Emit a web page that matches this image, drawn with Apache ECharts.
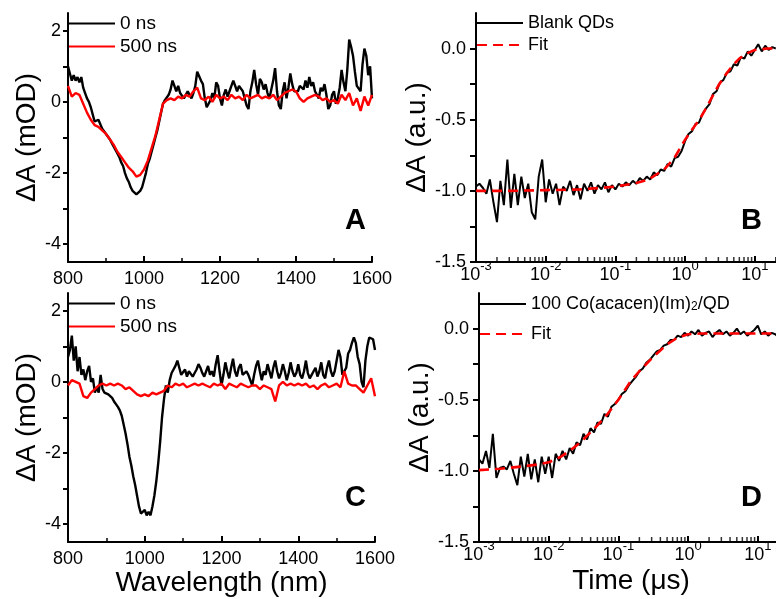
<!DOCTYPE html>
<html><head><meta charset="utf-8">
<script src="https://cdn.jsdelivr.net/npm/echarts@6/dist/echarts.min.js"></script>
<style>html,body{margin:0;padding:0;background:#fff;overflow:hidden}#c{width:776px;height:599px}</style>
</head><body><div id="c"></div>
<script>
// ---------------- DATA ----------------
// Panel A/C spectra: black traces sampled every 5 nm, red every 10 nm, from 800 nm
const wlStart = 800, wlStepBlack = 5, wlStepRed = 10;

const spectrumA_0ns = [
  1.0, 0.8, 0.6, 0.75, 0.6, 0.7, 0.55, 0.7, 0.4, 0.25,           // 800-845
  0.1, 0.0, -0.15, -0.35, -0.55, -0.6, -0.5, -0.55, -0.75, -0.8, // 850-895
  -0.9, -0.95, -1.05, -1.15, -1.25, -1.35, -1.45, -1.55, -1.7, -1.8, // 900-945
  -2.0, -2.15, -2.25, -2.4, -2.5, -2.5, -2.6, -2.55, -2.5, -2.4, // 950-995
  -2.2, -2.0, -1.75, -1.6, -1.4, -1.2, -1.0, -0.8, -0.55, -0.3,  // 1000-1045
  -0.05, 0.05, 0.1, 0.2, 0.35, 0.6, 0.55, 0.3, 0.45, 0.25,       // 1050-1095
  0.3, 0.1, 0.15, 0.3, 0.2, 0.1, 0.25, 0.45, 0.85, 0.9,          // 1100-1145
  0.6, 0.5, 0.1, -0.15, -0.2, 0.05, 0.25, 0.1, 0.55, 0.45,       // 1150-1195
  0.1, -0.1, 0.2, 0.35, 0.15, 0.3, 0.45, 0.6, 0.55, 0.3,         // 1200-1245
  0.45, 0.4, 0.3, 0.1, -0.1, -0.2, 0.3, 0.55, 0.9, 0.5,          // 1250-1295
  0.2, 0.65, 0.55, 0.35, 0.5, 0.25, 0.1, 0.35, 0.6, 0.95,        // 1300-1345
  0.3, -0.1, -0.2, 0.3, 0.55, 0.1, 0.4, 0.8, 0.5, 0.3,           // 1350-1395
  0.35, 0.3, 0.45, 0.5, 0.35, 0.6, 0.4, 0.7, 0.45, 0.55,         // 1400-1445
  0.3, 0.35, 0.1, 0.4, 0.3, 0.5, 0.2, -0.2, -0.1, 0.2,           // 1450-1495
  0.3, -0.05, 0.1, 0.4, 0.9, 0.55, 0.3, 0.9, 1.75, 1.55,         // 1500-1545
  1.3, 0.85, 0.45, 0.5, 0.3, 1.05, 1.5, 1.3, 0.75, 1.0,          // 1550-1595
  0.1                                                            // 1600
];
const spectrumA_500ns = [
  0.45, 0.15, 0.25, 0.2, -0.05, -0.3, -0.5, -0.65, -0.7, -0.8,   // 800-890
  -0.9, -1.05, -1.2, -1.4, -1.55, -1.7, -1.85, -1.95, -2.1, -2.05, // 900-990
  -1.9, -1.65, -1.3, -0.95, -0.5, -0.05, 0.05, 0.1, 0.05, 0.15,  // 1000-1090
  0.1, 0.2, 0.15, 0.3, 0.4, 0.1, 0.05, 0.15, 0.0, 0.2,           // 1100-1190
  0.1, 0.15, 0.05, 0.2, 0.1, 0.15, 0.05, 0.2, 0.1, 0.15,         // 1200-1290
  0.2, 0.1, 0.15, 0.1, 0.2, 0.05, 0.15, 0.25, 0.3, 0.35,         // 1300-1390
  0.3, 0.1, 0.0, 0.1, 0.15, 0.2, 0.15, 0.05, 0.1, 0.0,           // 1400-1490
  0.05, -0.05, 0.2, 0.05, 0.25, -0.1, 0.1, -0.25, 0.15, -0.1,    // 1500-1590
  0.2                                                            // 1600
];
const spectrumC_0ns = [
  0.7, 0.9, 1.3, 0.6, 1.0, 0.3, 0.7, 0.2, 0.35, 0.05,            // 800-845
  0.3, 0.45, 0.0, 0.1, -0.3, -0.15, -0.3, 0.2, -0.2, -0.3,       // 850-895
  -0.3, -0.35, -0.4, -0.45, -0.55, -0.6, -0.7, -0.8, -0.95, -1.2, // 900-945
  -1.45, -1.75, -2.1, -2.35, -2.65, -2.9, -3.2, -3.5, -3.7, -3.75, // 950-995
  -3.6, -3.75, -3.65, -3.75, -3.5, -3.2, -2.8, -2.3, -1.7, -1.0, // 1000-1045
  -0.5, -0.1, -0.3, 0.05, 0.25, 0.3, 0.45, 0.6, 0.4, 0.2,        // 1050-1095
  0.2, 0.35, 0.15, 0.3, 0.25, 0.15, 0.25, 0.35, 0.5, 0.4,        // 1100-1145
  0.25, 0.15, 0.3, 0.45, 0.2, 0.3, 0.15, 0.5, 0.75, 0.3,         // 1150-1195
  -0.1, 0.2, 0.55, 0.3, 0.1, 0.4, 0.65, 0.3, 0.15, 0.4,          // 1200-1245
  0.5, 0.2, 0.15, 0.3, 0.2, 0.05, -0.1, 0.2, 0.45, 0.6,          // 1250-1295
  0.3, 0.05, 0.3, 0.2, 0.5, 0.3, 0.1, 0.4, 0.6, 0.3,             // 1300-1345
  0.1, 0.25, 0.5, 0.3, 0.05, 0.25, 0.55, 0.3, 0.15, 0.25,        // 1350-1395
  0.5, 0.2, 0.1, 0.3, 0.6, 0.25, 0.1, 0.2, 0.3, 0.4,             // 1400-1445
  0.15, 0.3, 0.55, 0.2, 0.1, 0.4, 0.6, 0.3, 0.15, 0.3,           // 1450-1495
  0.35, 0.9, 0.7, 0.2, 0.15, 0.4, 0.8, 0.9, 1.1, 1.25,           // 1500-1545
  1.1, 0.7, 0.5, 0.0, -0.15, 0.6, 1.0, 1.25, 1.3, 1.2,           // 1550-1595
  0.9                                                            // 1600
];
const spectrumC_500ns = [
  -0.1, 0.05, 0.0, -0.05, -0.4, -0.45, -0.3, -0.2, -0.1, -0.05,  // 800-890
  -0.1, -0.05, -0.1, -0.05, -0.1, -0.2, -0.15, -0.25, -0.35, -0.4, // 900-990
  -0.35, -0.4, -0.3, -0.35, -0.3, -0.25, -0.1, -0.15, -0.05, -0.1, // 1000-1090
  -0.05, -0.15, -0.1, -0.05, -0.1, -0.05, -0.1, -0.15, -0.05, -0.1, // 1100-1190
  -0.05, -0.2, -0.05, -0.1, -0.15, -0.05, -0.1, -0.15, -0.1, -0.1, // 1200-1290
  -0.2, -0.1, -0.15, -0.2, -0.55, -0.1, 0.0, -0.1, -0.05, -0.1,  // 1300-1390
  -0.05, -0.1, -0.05, -0.15, -0.1, -0.2, -0.1, -0.05, -0.15, -0.1, // 1400-1490
  -0.05, -0.15, 0.3, -0.05, -0.1, -0.1, -0.2, -0.3, -0.1, 0.1,   // 1500-1590
  -0.4                                                           // 1600
];

// Panels B/D kinetics: sampling times (microseconds)
const timeGrid = [
  0.001, 0.00112, 0.00126, 0.00141, 0.00158, 0.00178, 0.002, 0.00224, 0.00251, 0.00282,
  0.00316, 0.00355, 0.00398, 0.00447, 0.00501, 0.00562, 0.00631, 0.00708, 0.00794, 0.00891,
  0.01, 0.0112, 0.0126, 0.0141, 0.0158, 0.0178, 0.02, 0.0224, 0.0251, 0.0282,
  0.0316, 0.0355, 0.0398, 0.0447, 0.0501, 0.0562, 0.0631, 0.0708, 0.0794, 0.0891,
  0.1, 0.112, 0.126, 0.141, 0.158, 0.178, 0.2, 0.224, 0.251, 0.282,
  0.316, 0.355, 0.398, 0.447, 0.501, 0.562, 0.631, 0.708, 0.794, 0.891,
  1, 1.12, 1.26, 1.41, 1.58, 1.78, 2, 2.24, 2.51, 2.82,
  3.16, 3.55, 3.98, 4.47, 5.01, 5.62, 6.31, 7.08, 7.94, 8.91,
  10, 11.2, 12.6, 14.1, 15.8, 17.8, 20
];
const kineticsBlank = [
  -0.97, -0.95, -0.98, -1.02, -0.92, -1.08, -1.22, -0.93, -1.1, -0.78,
  -1.12, -0.88, -1.1, -0.9, -1.05, -0.95, -1.15, -1.2, -0.9, -0.78,
  -1.08, -0.92, -1.02, -0.95, -1.1, -0.97, -1.0, -0.93, -1.03, -0.96,
  -1.06, -0.95, -1.0, -0.94, -1.02, -0.96, -0.99, -0.94, -1.01, -0.96,
  -0.99, -0.95, -0.97, -0.94, -0.96, -0.93, -0.95, -0.91, -0.93, -0.9,
  -0.92, -0.87, -0.89, -0.85, -0.86, -0.81, -0.83, -0.77, -0.76, -0.72,
  -0.65, -0.6, -0.58, -0.53, -0.52, -0.46, -0.42, -0.39, -0.32, -0.3,
  -0.24, -0.22, -0.17, -0.16, -0.11, -0.12, -0.06, -0.07, -0.02, -0.05,
  -0.01, 0.03, -0.02, 0.02, -0.01, 0.01, 0.0
];
const kineticsCo = [
  -0.92, -0.95, -0.86, -0.98, -0.74, -1.05, -0.98, -0.97, -0.99, -0.93,
  -1.02, -1.1, -0.9, -1.04, -0.88, -1.06, -0.92, -1.08, -0.9, -1.02,
  -0.9, -1.05, -0.88, -0.93, -0.86, -0.92, -0.84, -0.88, -0.8, -0.82,
  -0.74, -0.78, -0.7, -0.73, -0.66, -0.67, -0.6, -0.62, -0.55, -0.53,
  -0.5, -0.46, -0.44, -0.4, -0.37, -0.34, -0.3, -0.28, -0.24, -0.22,
  -0.19, -0.16, -0.15, -0.12, -0.11, -0.08, -0.08, -0.05, -0.06, -0.03,
  -0.05, -0.02, -0.04, -0.01, -0.05, -0.03, -0.02, -0.06, -0.03, -0.01,
  -0.04, -0.02, -0.05, -0.03, 0.0, -0.04, -0.02, -0.05, -0.03, -0.01,
  0.02, -0.04, -0.02, -0.05, -0.03, -0.04, -0.06
];
const fitBlankTimes = [0.001, 0.003, 0.01, 0.03, 0.06, 0.1, 0.2, 0.3, 0.5, 0.7, 1, 1.3, 1.6, 2, 2.5, 3, 4, 5, 6, 8, 10, 15, 23];
const fitBlankValues = [-1.0, -1.0, -0.995, -0.99, -0.98, -0.97, -0.945, -0.92, -0.85, -0.77, -0.64, -0.56, -0.5, -0.42, -0.33, -0.26, -0.17, -0.11, -0.07, -0.03, -0.01, 0.0, 0.0];
const fitCoTimes = [0.001, 0.002, 0.004, 0.007, 0.01, 0.015, 0.02, 0.03, 0.05, 0.07, 0.1, 0.15, 0.2, 0.3, 0.5, 0.7, 1, 1.5, 2, 5, 10, 23];
const fitCoValues = [-0.995, -0.985, -0.97, -0.955, -0.94, -0.9, -0.86, -0.79, -0.68, -0.6, -0.5, -0.37, -0.3, -0.21, -0.11, -0.065, -0.04, -0.035, -0.035, -0.035, -0.035, -0.035];

// Axis tick values
const logMinorTicks = [0.002,0.003,0.004,0.005,0.006,0.007,0.008,0.009,
  0.02,0.03,0.04,0.05,0.06,0.07,0.08,0.09,
  0.2,0.3,0.4,0.5,0.6,0.7,0.8,0.9,
  2,3,4,5,6,7,8,9,20];
const yTicksMOD = [-4, -3, -2, -1, 0, 1, 2];
const yLabelsMOD = [-4, -2, 0, 2];
const yTicksAU = [-1.5, -1.25, -1.0, -0.75, -0.5, -0.25, 0.0];
const yLabelsAU = [-1.5, -1.0, -0.5, 0.0];

const legendA = ['0 ns', '500 ns'];
const legendB = ['Blank QDs', 'Fit'];
const legendD = ['100 Co(acacen)(Im)2/QD', 'Fit'];

// ---------------- CHART ----------------
const FONT = '"Liberation Sans", Arial, Helvetica, sans-serif';
const BLACK = '#000';
const RED = '#ff0000';

const toPairs = (vals, start, step) => vals.map((v, i) => [start + step * i, v]);
const zip = (xs, ys) => xs.map((x, i) => [x, ys[i]]);

const axisLineStyle = { show: true, onZero: false, lineStyle: { color: BLACK, width: 2 } };
const labelStyle = { color: '#000', fontSize: 18, fontFamily: FONT };
const nameStyle = { color: '#000', fontSize: 28, fontFamily: FONT };

function wlAxis(gi, name) {
  return {
    type: 'value', gridIndex: gi, min: 800, max: 1600, interval: 200,
    axisLine: axisLineStyle,
    axisTick: { show: true, inside: true, length: 6, lineStyle: { color: BLACK, width: 2 } },
    minorTick: { show: true, splitNumber: 2, length: 4, lineStyle: { color: BLACK, width: 1.5 } },
    axisLabel: Object.assign({ margin: 8, formatter: v => String(v) }, labelStyle),
    splitLine: { show: false }, minorSplitLine: { show: false },
    name: name || '', nameLocation: 'middle', nameGap: 25, nameTextStyle: nameStyle
  };
}
function timeAxis(gi, name) {
  return {
    type: 'log', logBase: 10, gridIndex: gi, min: 0.001, max: 23,
    axisLine: axisLineStyle,
    axisTick: { show: true, inside: true, length: 6, lineStyle: { color: BLACK, width: 2 } },
    axisLabel: {
      margin: 2, showMaxLabel: false,
      formatter: v => '{b|10}{s|' + Math.round(Math.log10(v)) + '}',
      rich: {
        b: { fontSize: 18, fontFamily: FONT, color: '#000', lineHeight: 20, verticalAlign: 'bottom' },
        s: { fontSize: 13, fontFamily: FONT, color: '#000', lineHeight: 13, verticalAlign: 'bottom', padding: [0, 0, 11, 0] }
      }
    },
    splitLine: { show: false },
    name: name || '', nameLocation: 'middle', nameGap: 25, nameTextStyle: nameStyle
  };
}
function modAxis(gi) {
  return {
    type: 'value', gridIndex: gi, min: -4.5, max: 2.5,
    axisLine: axisLineStyle,
    axisTick: { show: true, inside: false, length: 5, customValues: yTicksMOD, lineStyle: { color: BLACK, width: 2 } },
    axisLabel: Object.assign({ margin: 7, customValues: yLabelsMOD }, labelStyle),
    splitLine: { show: false },
    name: 'ΔA (mOD)', nameLocation: 'middle', nameGap: 24, nameTextStyle: nameStyle
  };
}
function auAxis(gi, gap) {
  return {
    type: 'value', gridIndex: gi, min: -1.5, max: 0.25,
    axisLine: axisLineStyle,
    axisTick: { show: true, inside: false, length: 6, customValues: yTicksAU, lineStyle: { color: BLACK, width: 2 } },
    axisLabel: Object.assign({ margin: 10, customValues: yLabelsAU, formatter: v => Number(v).toFixed(1) }, labelStyle),
    splitLine: { show: false },
    name: 'ΔA (a.u.)', nameLocation: 'middle', nameGap: gap, nameTextStyle: nameStyle
  };
}
function lineSeries(name, xi, data, color, width, z, dashed) {
  return {
    type: 'line', name: name, xAxisIndex: xi, yAxisIndex: xi, data: data,
    symbol: 'none', showSymbol: false, animation: false, z: z, silent: true,
    lineStyle: { color: color, width: width, type: dashed ? [10, 6] : 'solid' },
    itemStyle: { color: color }
  };
}
function minorTickSeries(xi) {
  return {
    type: 'scatter', xAxisIndex: xi, yAxisIndex: xi, silent: true, animation: false,
    data: logMinorTicks.map(t => [t, -1.5]),
    symbol: 'rect', symbolSize: [1.5, 5], symbolOffset: [0, -2.5],
    itemStyle: { color: BLACK }, z: 10
  };
}
function legend(left, top, names, fontSize, gap, extra) {
  return Object.assign({
    left: left, top: top, orient: 'vertical', data: names, selectedMode: false,
    itemWidth: 46, itemHeight: 14, itemGap: gap, padding: 0,
    itemStyle: { color: 'rgba(0,0,0,0)', borderWidth: 0, opacity: 0 },
    textStyle: { fontSize: fontSize, fontFamily: FONT, color: '#000' }
  }, extra || {});
}

const grids = [
  { left: 68, top: 13, width: 304, height: 249 },
  { left: 476, top: 13, width: 304, height: 249 },
  { left: 68, top: 293, width: 307, height: 249 },
  { left: 479, top: 293, width: 304, height: 249 }
].map(g => Object.assign({ containLabel: false, outerBoundsMode: 'none' }, g));

const option = {
  animation: false,
  backgroundColor: '#fff',
  grid: grids,
  xAxis: [wlAxis(0), timeAxis(1), wlAxis(2, 'Wavelength (nm)'), timeAxis(3, 'Time (μs)')],
  yAxis: [modAxis(0), auAxis(1, 41), modAxis(2), auAxis(3, 45)],
  legend: [
    legend(68, 14, legendA, 19, 4),
    legend(476, 14, legendB, 18, 4),
    legend(68, 294, legendA, 19, 4),
    legend(479, 292, legendD, 18, 12, {
      formatter: n => n === legendD[0] ? '100 Co(acacen)(Im){sub|2}/QD' : n,
      textStyle: {
        fontSize: 18, fontFamily: FONT, color: '#000',
        rich: { sub: { fontSize: 12, fontFamily: FONT, color: '#000', lineHeight: 12, verticalAlign: 'bottom', padding: [9, 0, 0, 0] } }
      }
    })
  ],
  graphic: [
    { type: 'text', left: 345, top: 206, style: { text: 'A', font: 'bold 29px ' + FONT, fill: '#000' } },
    { type: 'text', left: 741, top: 206, style: { text: 'B', font: 'bold 29px ' + FONT, fill: '#000' } },
    { type: 'text', left: 345, top: 483, style: { text: 'C', font: 'bold 29px ' + FONT, fill: '#000' } },
    { type: 'text', left: 741, top: 483, style: { text: 'D', font: 'bold 29px ' + FONT, fill: '#000' } }
  ],
  series: [
    lineSeries(legendA[0], 0, toPairs(spectrumA_0ns, wlStart, wlStepBlack), BLACK, 2.4, 2),
    lineSeries(legendA[1], 0, toPairs(spectrumA_500ns, wlStart, wlStepRed), RED, 2.4, 3),
    lineSeries(legendB[0], 1, zip(timeGrid, kineticsBlank), BLACK, 2, 2),
    lineSeries(legendB[1], 1, zip(fitBlankTimes, fitBlankValues), RED, 2.6, 3, true),
    minorTickSeries(1),
    lineSeries(legendA[0], 2, toPairs(spectrumC_0ns, wlStart, wlStepBlack), BLACK, 2.4, 2),
    lineSeries(legendA[1], 2, toPairs(spectrumC_500ns, wlStart, wlStepRed), RED, 2.4, 3),
    lineSeries(legendD[0], 3, zip(timeGrid, kineticsCo), BLACK, 2, 2),
    lineSeries(legendD[1], 3, zip(fitCoTimes, fitCoValues), RED, 2.6, 3, true),
    minorTickSeries(3)
  ]
};
const chart = echarts.init(document.getElementById('c'), null, { renderer: 'canvas' });
chart.setOption(option);
</script>
</body></html>
